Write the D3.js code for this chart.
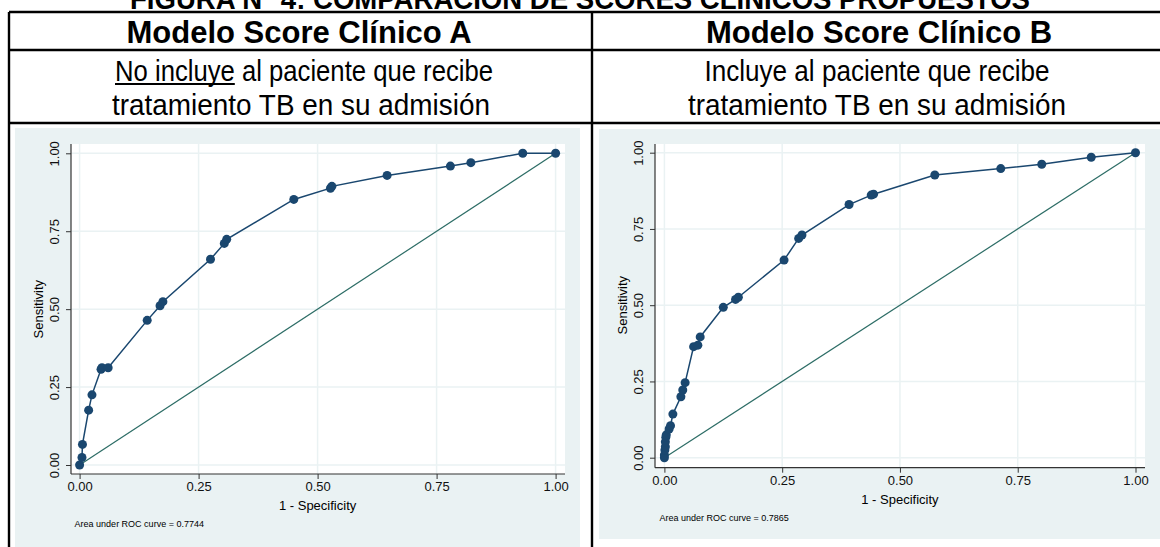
<!DOCTYPE html>
<html>
<head>
    <title>Comparacion de scores clinicos</title>
    <script src="https://d3js.org/d3.v7.min.js"></script>
    <style>
        body { margin: 0; background: #fff; }
        svg { display: block; font-family: "Liberation Sans", Arial, sans-serif; }
        .grid line { stroke: #eaf2f3; stroke-width: 1.5; }
        .axis line { stroke: #333; }
        .axis text { fill: #111; font-size: 13px; }
    </style>
</head>
<body>
<svg width="1160" height="547"></svg>
<script>
    // ROC points (1 - specificity, sensitivity)
    var fprA  = [0, 0.005, 0.006, 0.019, 0.026, 0.045, 0.047, 0.060, 0.142, 0.169, 0.175, 0.275, 0.304, 0.309, 0.450, 0.527, 0.530, 0.646, 0.779, 0.822, 0.931, 1];
    var sensA = [0, 0.024, 0.066, 0.176, 0.225, 0.307, 0.312, 0.312, 0.464, 0.511, 0.524, 0.660, 0.711, 0.724, 0.852, 0.888, 0.894, 0.929, 0.959, 0.970, 1, 1];

    var fprB  = [0, 0, 0.001, 0.002, 0.002, 0.003, 0.004, 0.010, 0.013, 0.018, 0.035, 0.039, 0.044, 0.062, 0.071, 0.076, 0.125, 0.151, 0.157, 0.254, 0.285, 0.292, 0.392, 0.439, 0.444, 0.574, 0.714, 0.801, 0.906, 1];
    var sensB = [0, 0.009, 0.025, 0.036, 0.052, 0.067, 0.075, 0.094, 0.105, 0.143, 0.200, 0.222, 0.246, 0.364, 0.369, 0.396, 0.493, 0.519, 0.526, 0.648, 0.719, 0.730, 0.830, 0.861, 0.864, 0.927, 0.948, 0.962, 0.985, 1];

    var tickValues = [0, 0.25, 0.5, 0.75, 1];
    var tickLabels = ["0.00", "0.25", "0.50", "0.75", "1.00"];

    var aucLabels = ["Area under ROC curve = 0.7744", "Area under ROC curve = 0.7865"];
    var headers = ["Modelo Score Clínico A", "Modelo Score Clínico B"];

    var svg = d3.select("svg");

    // title, only its lower part shows at the top edge (as in the source image)
    svg.append("text")
        .attr("x", 580).attr("y", 9)
        .attr("text-anchor", "middle")
        .attr("textLength", 900).attr("lengthAdjust", "spacingAndGlyphs")
        .style("font-size", "30px").style("font-weight", "bold")
        .text("FIGURA N° 4: COMPARACIÓN DE SCORES CLÍNICOS PROPUESTOS");

    // panel backgrounds
    svg.append("rect").attr("x", 15).attr("y", 128).attr("width", 565).attr("height", 419).attr("fill", "#eaf2f3");
    svg.append("rect").attr("x", 599).attr("y", 129).attr("width", 561).attr("height", 410).attr("fill", "#eaf2f3");

    function drawPanel(p) {
        var x = d3.scaleLinear().domain([0, 1]).range([p.x0, p.x1]);
        var y = d3.scaleLinear().domain([0, 1]).range([p.y0, p.y1]);
        var g = svg.append("g");

        g.append("rect")
            .attr("x", p.left).attr("y", p.top)
            .attr("width", p.right - p.left).attr("height", p.bottom - p.top)
            .attr("fill", "#fff");

        var grid = g.append("g").attr("class", "grid");
        grid.selectAll(".gx").data(tickValues).enter().append("line")
            .attr("x1", function(d) { return x(d); }).attr("x2", function(d) { return x(d); })
            .attr("y1", p.top).attr("y2", p.bottom);
        grid.selectAll(".gy").data(tickValues).enter().append("line")
            .attr("y1", function(d) { return y(d); }).attr("y2", function(d) { return y(d); })
            .attr("x1", p.left).attr("x2", p.right);

        // axes
        var xAxis = d3.axisBottom(x).tickValues(tickValues)
            .tickFormat(function(d, i) { return tickLabels[i]; })
            .tickSize(5).tickPadding(3);
        var gx = g.append("g").attr("class", "axis")
            .attr("transform", "translate(0," + p.bottom + ")")
            .call(xAxis);
        gx.select(".domain").remove();

        var yAxis = d3.axisLeft(y).tickValues(tickValues)
            .tickFormat(function(d, i) { return tickLabels[i]; })
            .tickSize(5);
        var gy = g.append("g").attr("class", "axis")
            .attr("transform", "translate(" + p.left + ",0)")
            .call(yAxis);
        gy.select(".domain").remove();
        gy.selectAll(".tick text")
            .attr("x", 0).attr("dy", null)
            .attr("text-anchor", "middle")
            .attr("transform", "translate(-12,0) rotate(-90)");

        g.append("line").attr("x1", p.left).attr("x2", p.right)
            .attr("y1", p.bottom).attr("y2", p.bottom)
            .attr("stroke", "#333").attr("stroke-width", 1.2);
        g.append("line").attr("x1", p.left).attr("x2", p.left)
            .attr("y1", p.top).attr("y2", p.bottom)
            .attr("stroke", "#333").attr("stroke-width", 1.2);

        // reference diagonal
        g.append("line")
            .attr("x1", x(0)).attr("y1", y(0)).attr("x2", x(1)).attr("y2", y(1))
            .attr("stroke", "#2d6d66").attr("stroke-width", 1.2);

        var pts = p.fpr.map(function(f, i) { return [f, p.sens[i]]; });
        var line = d3.line()
            .x(function(d) { return x(d[0]); })
            .y(function(d) { return y(d[1]); });

        g.append("path").datum(pts)
            .attr("fill", "none").attr("stroke", "#1a476f").attr("stroke-width", 1.5)
            .attr("d", line);

        g.selectAll(".dot").data(pts).enter().append("circle")
            .attr("cx", function(d) { return x(d[0]); })
            .attr("cy", function(d) { return y(d[1]); })
            .attr("r", 4.5)
            .attr("fill", "#1a476f");

        g.append("text")
            .attr("x", (p.x0 + p.x1) / 2).attr("y", p.bottom + 36)
            .attr("text-anchor", "middle").style("font-size", "13px")
            .text("1 - Specificity");

        g.append("text")
            .attr("transform", "translate(" + (p.left - 28) + "," + ((p.y0 + p.y1) / 2) + ") rotate(-90)")
            .attr("text-anchor", "middle").style("font-size", "13px")
            .text("Sensitivity");

        g.append("text")
            .attr("x", p.x0 - 5).attr("y", p.bottom + 53)
            .style("font-size", "9px")
            .text(p.auc);
    }

    drawPanel({ fpr: fprA, sens: sensA, auc: aucLabels[0],
        x0: 79.6, x1: 555.6, y0: 465, y1: 153.3,
        left: 71, right: 565, top: 144, bottom: 474 });

    drawPanel({ fpr: fprB, sens: sensB, auc: aucLabels[1],
        x0: 664.4, x1: 1135.5, y0: 457.7, y1: 152.7,
        left: 655, right: 1145, top: 144, bottom: 467.7 });

    // table rules
    var rules = [
        [9, 12, 1160, 12], [9, 50, 1160, 50], [9, 123, 1160, 123],
        [9, 12, 9, 547], [592, 12, 592, 547]
    ];
    svg.selectAll(".rule").data(rules).enter().append("line")
        .attr("x1", function(d) { return d[0]; }).attr("y1", function(d) { return d[1]; })
        .attr("x2", function(d) { return d[2]; }).attr("y2", function(d) { return d[3]; })
        .attr("stroke", "#000").attr("stroke-width", 2.4);

    var colX = [299, 879];
    svg.selectAll(".hdr").data(headers).enter().append("text")
        .attr("x", function(d, i) { return colX[i]; }).attr("y", 43)
        .attr("text-anchor", "middle")
        .style("font-size", "31px").style("font-weight", "bold")
        .text(function(d) { return d; });

    // condensed subtitle rows
    function subText(cx, y, w, s) {
        return svg.append("text").attr("x", cx).attr("y", y)
            .attr("text-anchor", "middle")
            .attr("textLength", w).attr("lengthAdjust", "spacingAndGlyphs")
            .style("font-size", "29px")
            .text(s);
    }
    var sub1Text = "No incluye al paciente que recibe";
    var sub1 = subText(304, 81, 378, sub1Text);
    subText(301, 115, 378, "tratamiento TB en su admisión");
    subText(877, 81, 345, "Incluye al paciente que recibe");
    subText(877, 115, 378, "tratamiento TB en su admisión");

    // underline under "No incluye", scaled to the condensed width
    var probe = svg.append("text").style("font-size", "29px").text(sub1Text);
    var fullW = probe.node().getComputedTextLength();
    probe.text("No incluye");
    var partW = probe.node().getComputedTextLength();
    probe.remove();
    var ulStart = 304 - 378 / 2;
    svg.append("line")
        .attr("x1", ulStart).attr("x2", ulStart + 378 * partW / fullW)
        .attr("y1", 84).attr("y2", 84)
        .attr("stroke", "#000").attr("stroke-width", 2);
</script>
</body>
</html>
